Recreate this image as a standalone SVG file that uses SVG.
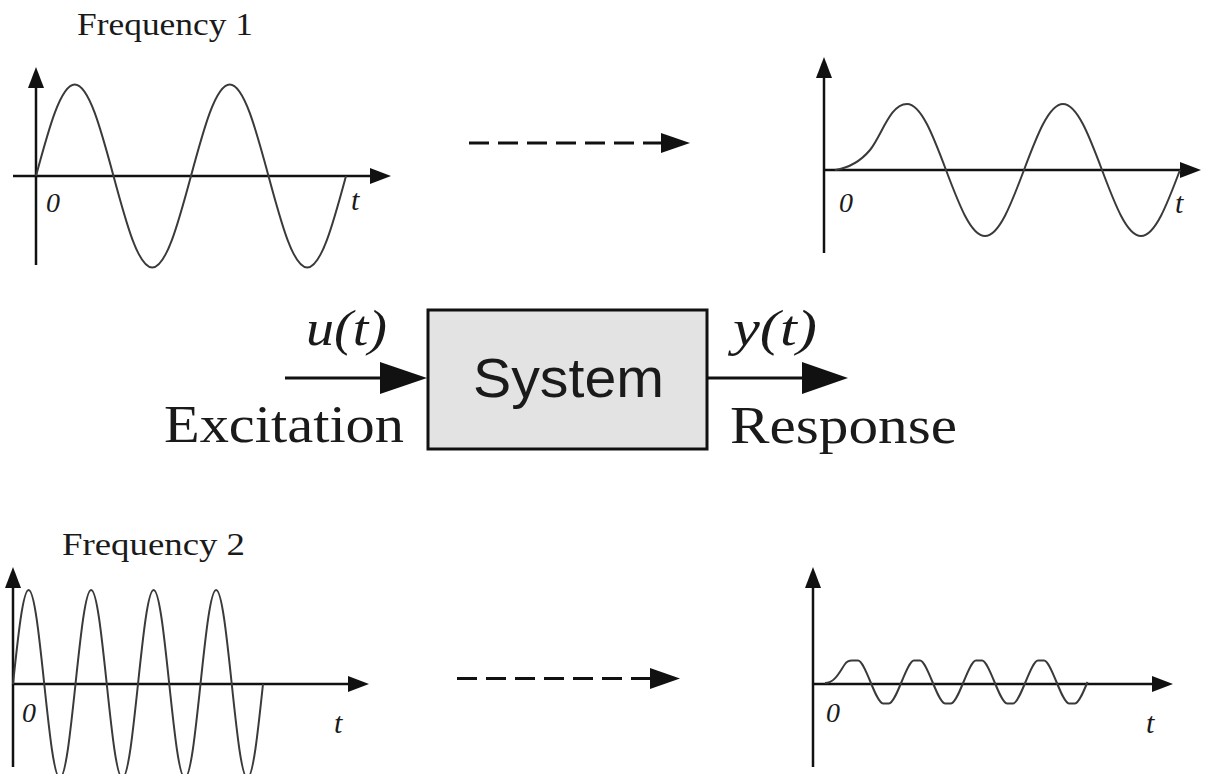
<svg xmlns="http://www.w3.org/2000/svg" width="1211" height="774" viewBox="0 0 1211 774">
<style>
  .axis { stroke: #111; stroke-width: 2.5; fill: none; }
  .head { fill: #111; stroke: none; }
  .wave { stroke: #3a3a3a; stroke-width: 2; fill: none; stroke-linejoin: round; }
  .serif { font-family: "Liberation Serif", "Times New Roman", serif; fill: #1a1a1a; }
  .ital { font-family: "Liberation Serif", "Times New Roman", serif; font-style: italic; fill: #1a1a1a; }
  .sans { font-family: "Liberation Sans", Arial, sans-serif; fill: #1a1a1a; }
  .conn { stroke: #111; stroke-width: 3; fill: none; }
  .dash { stroke: #111; stroke-width: 3; fill: none; stroke-dasharray: 20 9; }
</style>

<!-- Top-left plot: input, frequency 1 -->
<g id="plot-input-f1">
  <text class="serif" x="77" y="35" font-size="32" textLength="176" lengthAdjust="spacingAndGlyphs">Frequency 1</text>
  <line class="axis" x1="36" y1="265" x2="36" y2="84"/>
  <polygon class="head" points="36,67 28,88 44,88"/>
  <line class="axis" x1="13" y1="176" x2="374" y2="176"/>
  <polygon class="head" points="391,176 370,168 370,184"/>
  <path class="wave" d="M36,176
    c12.64,-46.87 24.73,-91.5 38.75,-91.5 c14.02,0 26.11,44.62 38.75,91.5
    c12.64,46.87 24.73,91.5 38.75,91.5 c14.02,0 26.11,-44.62 38.75,-91.5
    c12.64,-46.87 24.73,-91.5 38.75,-91.5 c14.02,0 26.11,44.62 38.75,91.5
    c12.64,46.87 24.73,91.5 38.75,91.5 c14.02,0 26.11,-44.62 38.75,-91.5"/>
  <text class="ital" x="46" y="212" font-size="28">0</text>
  <text class="ital" x="351" y="210" font-size="30">t</text>
</g>

<!-- Top-right plot: response, frequency 1 -->
<g id="plot-response-f1">
  <line class="axis" x1="824" y1="253" x2="824" y2="74"/>
  <polygon class="head" points="824,57 816,78 832,78"/>
  <line class="axis" x1="824" y1="170" x2="1184" y2="170"/>
  <polygon class="head" points="1201,170 1180,162 1180,178"/>
  <path class="wave" d="M835,170 C848,168 860,162 870,150 C882,135 890,104 907,104
    c14.11,0 26.28,32.19 39,66 c12.72,33.81 24.89,66 39,66
    c14.11,0 26.28,-32.19 39,-66 c12.72,-33.81 24.89,-66 39,-66
    c14.11,0 26.28,32.19 39,66 c12.72,33.81 24.89,66 39,66
    c14.11,0 26.28,-32.19 39,-66"/>
  <text class="ital" x="839" y="212" font-size="28">0</text>
  <text class="ital" x="1175" y="213" font-size="30">t</text>
</g>

<!-- System block -->
<g id="system">
  <rect x="428" y="310" width="279" height="139" fill="#e3e3e3" stroke="#111" stroke-width="3"/>
  <text class="sans" x="473" y="397" font-size="55" textLength="191" lengthAdjust="spacingAndGlyphs">System</text>
</g>

<g id="excitation-label">
  <text class="ital" x="306" y="345" font-size="50" textLength="81" lengthAdjust="spacingAndGlyphs">u(t)</text>
  <text class="serif" x="164" y="442" font-size="52" textLength="240" lengthAdjust="spacingAndGlyphs">Excitation</text>
</g>

<g id="response-label">
  <text class="ital" x="733" y="345" font-size="50" textLength="84" lengthAdjust="spacingAndGlyphs">y(t)</text>
  <text class="serif" x="730" y="443" font-size="52" textLength="227" lengthAdjust="spacingAndGlyphs">Response</text>
</g>

<!-- Bottom-left plot: input, frequency 2 -->
<g id="plot-input-f2">
  <text class="serif" x="62" y="555" font-size="32" textLength="183" lengthAdjust="spacingAndGlyphs">Frequency 2</text>
  <line class="axis" x1="13" y1="767" x2="13" y2="584"/>
  <polygon class="head" points="13,567 5,588 21,588"/>
  <line class="axis" x1="13" y1="684" x2="352" y2="684"/>
  <polygon class="head" points="369,684 348,676 348,692"/>
  <path class="wave" d="M13,684
    c5.10,-48.16 9.97,-94 15.625,-94 c5.655,0 10.53,45.84 15.625,94 c5.10,48.16 9.97,94 15.625,94 c5.655,0 10.53,-45.84 15.625,-94
    c5.10,-48.16 9.97,-94 15.625,-94 c5.655,0 10.53,45.84 15.625,94 c5.10,48.16 9.97,94 15.625,94 c5.655,0 10.53,-45.84 15.625,-94
    c5.10,-48.16 9.97,-94 15.625,-94 c5.655,0 10.53,45.84 15.625,94 c5.10,48.16 9.97,94 15.625,94 c5.655,0 10.53,-45.84 15.625,-94
    c5.10,-48.16 9.97,-94 15.625,-94 c5.655,0 10.53,45.84 15.625,94 c5.10,48.16 9.97,94 15.625,94 c5.655,0 10.53,-45.84 15.625,-94"/>
  <text class="ital" x="22" y="722" font-size="28">0</text>
  <text class="ital" x="334" y="733" font-size="30">t</text>
</g>

<!-- Bottom-right plot: response, frequency 2 -->
<g id="plot-response-f2">
  <line class="axis" x1="813" y1="767" x2="813" y2="584"/>
  <polygon class="head" points="813,567 805,588 821,588"/>
  <line class="axis" x1="813" y1="684" x2="1156" y2="684"/>
  <polygon class="head" points="1173,684 1152,676 1152,692"/>
  <path class="wave" d="M825,683 C835,683 840,671 845,664 C847,661 849,660.5 852,660.5 h6
    c3.5,0 8,10.5 12.5,21.5 c4.5,11 9,21.5 12.5,21.5 h6 c3.5,0 8,-10.5 12.5,-21.5 c4.5,-11 9,-21.5 12.5,-21.5 h6
    c3.5,0 8,10.5 12.5,21.5 c4.5,11 9,21.5 12.5,21.5 h6 c3.5,0 8,-10.5 12.5,-21.5 c4.5,-11 9,-21.5 12.5,-21.5 h6
    c3.5,0 8,10.5 12.5,21.5 c4.5,11 9,21.5 12.5,21.5 h6 c3.5,0 8,-10.5 12.5,-21.5 c4.5,-11 9,-21.5 12.5,-21.5 h6
    c3.5,0 8,10.5 12.5,21.5 c4.5,11 9,21.5 12.5,21.5 h6 c3.5,0 8,-10.5 12.5,-21.5"/>
  <text class="ital" x="826" y="722" font-size="28">0</text>
  <text class="ital" x="1146" y="733" font-size="30">t</text>
</g>

<!-- Connectors -->
<g id="connectors">
  <line class="dash" x1="469" y1="143" x2="664" y2="143"/>
  <polygon class="head" points="690,143 661,133 661,153"/>
  <line class="dash" x1="457" y1="678.5" x2="652" y2="678.5"/>
  <polygon class="head" points="680,678.5 650,668 650,689"/>
  <line class="conn" x1="285" y1="378" x2="382" y2="378"/>
  <polygon class="head" points="427,378 380,362 380,394"/>
  <line class="conn" x1="707" y1="378" x2="804" y2="378"/>
  <polygon class="head" points="848,378 802,362 802,394"/>
</g>
</svg>
